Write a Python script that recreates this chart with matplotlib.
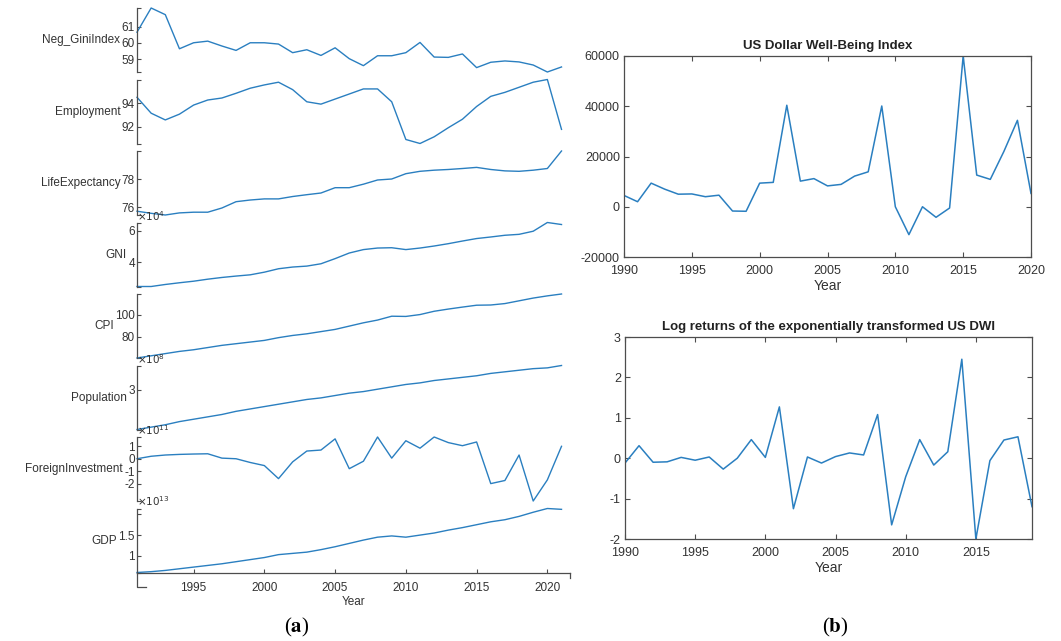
import matplotlib
matplotlib.use('Agg')
import matplotlib.pyplot as plt

plt.rcParams['font.family'] = ['Liberation Sans', 'DejaVu Sans']
plt.rcParams['axes.unicode_minus'] = False

# ---------------- panel (a): stacked series ----------------
years_a = list(range(1991, 2022))
neg_gini = [60.65, 62.14, 61.73, 59.63, 60.0, 60.10, 59.80, 59.53, 60.0, 60.0, 59.92,
            59.39, 59.57, 59.22, 59.69, 59.02, 58.59, 59.20, 59.20, 59.39, 60.02, 59.12,
            59.10, 59.31, 58.47, 58.80, 58.88, 58.82, 58.63, 58.20, 58.51]
employment = [94.49, 93.14, 92.57, 93.06, 93.83, 94.26, 94.43, 94.83, 95.26, 95.54, 95.77,
              95.14, 94.11, 93.91, 94.34, 94.77, 95.20, 95.20, 94.11, 90.91, 90.57, 91.14,
              91.91, 92.63, 93.71, 94.57, 94.91, 95.34, 95.77, 96.0, 91.77]
life_expectancy = [75.7, 75.55, 75.43, 75.58, 75.63, 75.63, 75.93, 76.38, 76.5, 76.58, 76.58,
                   76.75, 76.88, 77.0, 77.38, 77.38, 77.63, 77.93, 78.0, 78.38, 78.55, 78.63,
                   78.68, 78.75, 78.83, 78.68, 78.58, 78.55, 78.63, 78.75, 80.0]
gni_e4 = [2.43, 2.43, 2.56, 2.67, 2.77, 2.90, 3.01, 3.10, 3.18, 3.35, 3.57, 3.68, 3.74, 3.89,
          4.22, 4.58, 4.80, 4.90, 4.92, 4.80, 4.90, 5.03, 5.18, 5.35, 5.51, 5.61, 5.72, 5.78,
          5.98, 6.54, 6.41]
cpi = [60.5, 62.5, 64.5, 66.5, 68.0, 70.0, 72.0, 73.5, 75.0, 76.5, 79.0, 81.0, 82.5, 84.5,
       86.5, 89.5, 92.5, 95.0, 98.5, 98.3, 100.0, 103.0, 105.0, 106.8, 108.5, 108.7, 110.0,
       112.5, 115.0, 117.0, 118.7]
population_e8 = [2.50, 2.53, 2.56, 2.60, 2.63, 2.66, 2.69, 2.73, 2.76, 2.79, 2.82, 2.85, 2.88,
                 2.90, 2.93, 2.96, 2.98, 3.01, 3.04, 3.07, 3.09, 3.12, 3.14, 3.16, 3.18, 3.21,
                 3.23, 3.25, 3.27, 3.28, 3.31]
foreign_inv_e11 = [0.0, 0.2, 0.3, 0.35, 0.38, 0.4, 0.05, 0.0, -0.3, -0.55, -1.6, -0.25, 0.62,
                   0.7, 1.6, -0.8, -0.2, 1.75, 0.05, 1.45, 0.85, 1.75, 1.3, 1.05, 1.35, -2.0,
                   -1.75, 0.3, -3.4, -1.7, 1.0]
gdp_e13 = [0.60, 0.62, 0.65, 0.69, 0.73, 0.77, 0.81, 0.86, 0.91, 0.96, 1.03, 1.06, 1.09, 1.15,
           1.22, 1.30, 1.38, 1.45, 1.48, 1.45, 1.50, 1.55, 1.62, 1.68, 1.75, 1.82, 1.87, 1.95,
           2.05, 2.14, 2.12]

series_a = [neg_gini, employment, life_expectancy, gni_e4, cpi, population_e8,
            foreign_inv_e11, gdp_e13]
names_a = ['Neg_GiniIndex', 'Employment', 'LifeExpectancy', 'GNI', 'CPI', 'Population',
           'ForeignInvestment', 'GDP']
exponents_a = [None, None, None, 4, None, 8, 11, 13]
yticks_a = [[59, 60, 61], [92, 94], [76, 78], [4, 6], [80, 100], [3], [-2, -1, 0, 1],
            [1, 1.5, 2]]
yticklabels_a = [['59', '60', '61'], ['92', '94'], ['76', '78'], ['4', '6'], ['80', '100'],
                 ['3'], ['-2', '-1', '0', '1'], ['1', '1.5', '']]
xticks_a = [1995, 2000, 2005, 2010, 2015, 2020]

# ---------------- panel (b) ----------------
years_b = list(range(1990, 2021))
dwi = [4500, 2000, 9400, 7000, 5000, 5100, 4000, 4600, -1700, -1800, 9400, 9700, 40400,
       10200, 11200, 8300, 8900, 12200, 13900, 40100, 0, -11100, 0, -4200, -500, 60000,
       12600, 10900, 22000, 34400, 5300]
years_c = list(range(1990, 2020))
log_returns = [-0.12, 0.31, -0.10, -0.09, 0.02, -0.05, 0.03, -0.27, 0.0, 0.46, 0.02, 1.27,
               -1.25, 0.03, -0.12, 0.04, 0.13, 0.08, 1.08, -1.65, -0.46, 0.46, -0.17, 0.16,
               2.45, -2.0, -0.06, 0.45, 0.53, -1.2]

LINE = '#2a7fc0'
AXC = '#4d4d4d'
TXT = '#333333'
W, H = 1061, 641

fig = plt.figure(figsize=(W / 100, H / 100), dpi=100)


def rect(x0, y0, x1, y1):
    return [x0 / W, 1 - y1 / H, (x1 - x0) / W, (y1 - y0) / H]


n = len(series_a)
for i, (data, name) in enumerate(zip(series_a, names_a)):
    top = 8 + i * 71.5
    ax = fig.add_axes(rect(137, top, 570, top + 64))
    ax.plot(years_a, data, color=LINE, lw=1.0, clip_on=False)
    lo, hi = min(data), max(data)
    ax.set_ylim(lo, hi)
    ax.set_xlim(1991, 2021.6)
    for s in ['top', 'right']:
        ax.spines[s].set_visible(False)
    ax.spines['left'].set_color(AXC)
    ax.spines['left'].set_linewidth(0.9)
    ax.set_yticks(yticks_a[i])
    ax.set_yticklabels(yticklabels_a[i])
    ax.set_yticks([lo, hi], minor=True)
    ax.tick_params(axis='y', which='both', direction='in', length=3, width=0.8,
                   color=AXC, pad=1.5, labelsize=8.5, labelcolor=TXT)
    ax.set_ylabel(name, rotation=0, ha='right', va='center', fontsize=8.5, color=TXT,
                  labelpad=1)
    if exponents_a[i] is not None:
        ax.text(0.0, 1.0, r'$\times10^{%d}$' % exponents_a[i], transform=ax.transAxes,
                ha='left', va='bottom', fontsize=7.5, color=TXT)
    if i < n - 1:
        ax.spines['bottom'].set_visible(False)
        ax.set_xticks([])
    else:
        ax.spines['bottom'].set_color(AXC)
        ax.spines['bottom'].set_linewidth(0.9)
        ax.set_xticks(xticks_a)
        ax.tick_params(axis='x', direction='in', length=3, width=0.8, color=AXC,
                       pad=7, labelsize=8.5, labelcolor=TXT)
        ax.set_xlabel('Year', fontsize=8.5, color=TXT, labelpad=1)
        # ruler end caps of the stacked plot's x axis
        ax.plot([0, 0, 0.02], [0, -0.23, -0.23], transform=ax.transAxes, color=AXC,
                lw=0.9, clip_on=False)
        ax.plot([1, 1], [0, -0.08], transform=ax.transAxes, color=AXC, lw=0.9,
                clip_on=False)


def style_box(ax):
    for s in ax.spines.values():
        s.set_color(AXC)
        s.set_linewidth(0.9)
    ax.tick_params(direction='in', length=3.5, width=0.8, color=AXC, top=True, right=True,
                   labelsize=9, labelcolor=TXT)
    ax.tick_params(axis='x', pad=6)
    ax.tick_params(axis='y', pad=3)


ax1 = fig.add_axes(rect(624, 56, 1031, 257))
ax1.plot(years_b, dwi, color=LINE, lw=1.1)
ax1.set_xlim(1990, 2020)
ax1.set_ylim(-20000, 60000)
ax1.set_xticks(range(1990, 2021, 5))
ax1.set_yticks(range(-20000, 60001, 20000))
style_box(ax1)
ax1.set_title('US Dollar Well-Being Index', fontsize=9.5, fontweight='bold', color='#222222',
              pad=5)
ax1.set_xlabel('Year', fontsize=10, color=TXT, labelpad=1)

ax2 = fig.add_axes(rect(625, 337, 1032, 539))
ax2.plot(years_c, log_returns, color=LINE, lw=1.1)
ax2.set_xlim(1990, 2019)
ax2.set_ylim(-2, 3)
ax2.set_xticks(range(1990, 2016, 5))
ax2.set_yticks(range(-2, 4))
style_box(ax2)
ax2.set_title('Log returns of the exponentially transformed US DWI', fontsize=9.5,
              fontweight='bold', color='#222222', pad=5)
ax2.set_xlabel('Year', fontsize=10, color=TXT, labelpad=1)

fig.text(297 / W, 1 - 627 / H, r'($\mathbf{a}$)', ha='center', va='center', fontsize=15,
         family='Liberation Serif', math_fontfamily='stix', color='black')
fig.text(835 / W, 1 - 627 / H, r'($\mathbf{b}$)', ha='center', va='center', fontsize=15,
         family='Liberation Serif', math_fontfamily='stix', color='black')

fig.savefig('out.png', dpi=100)
